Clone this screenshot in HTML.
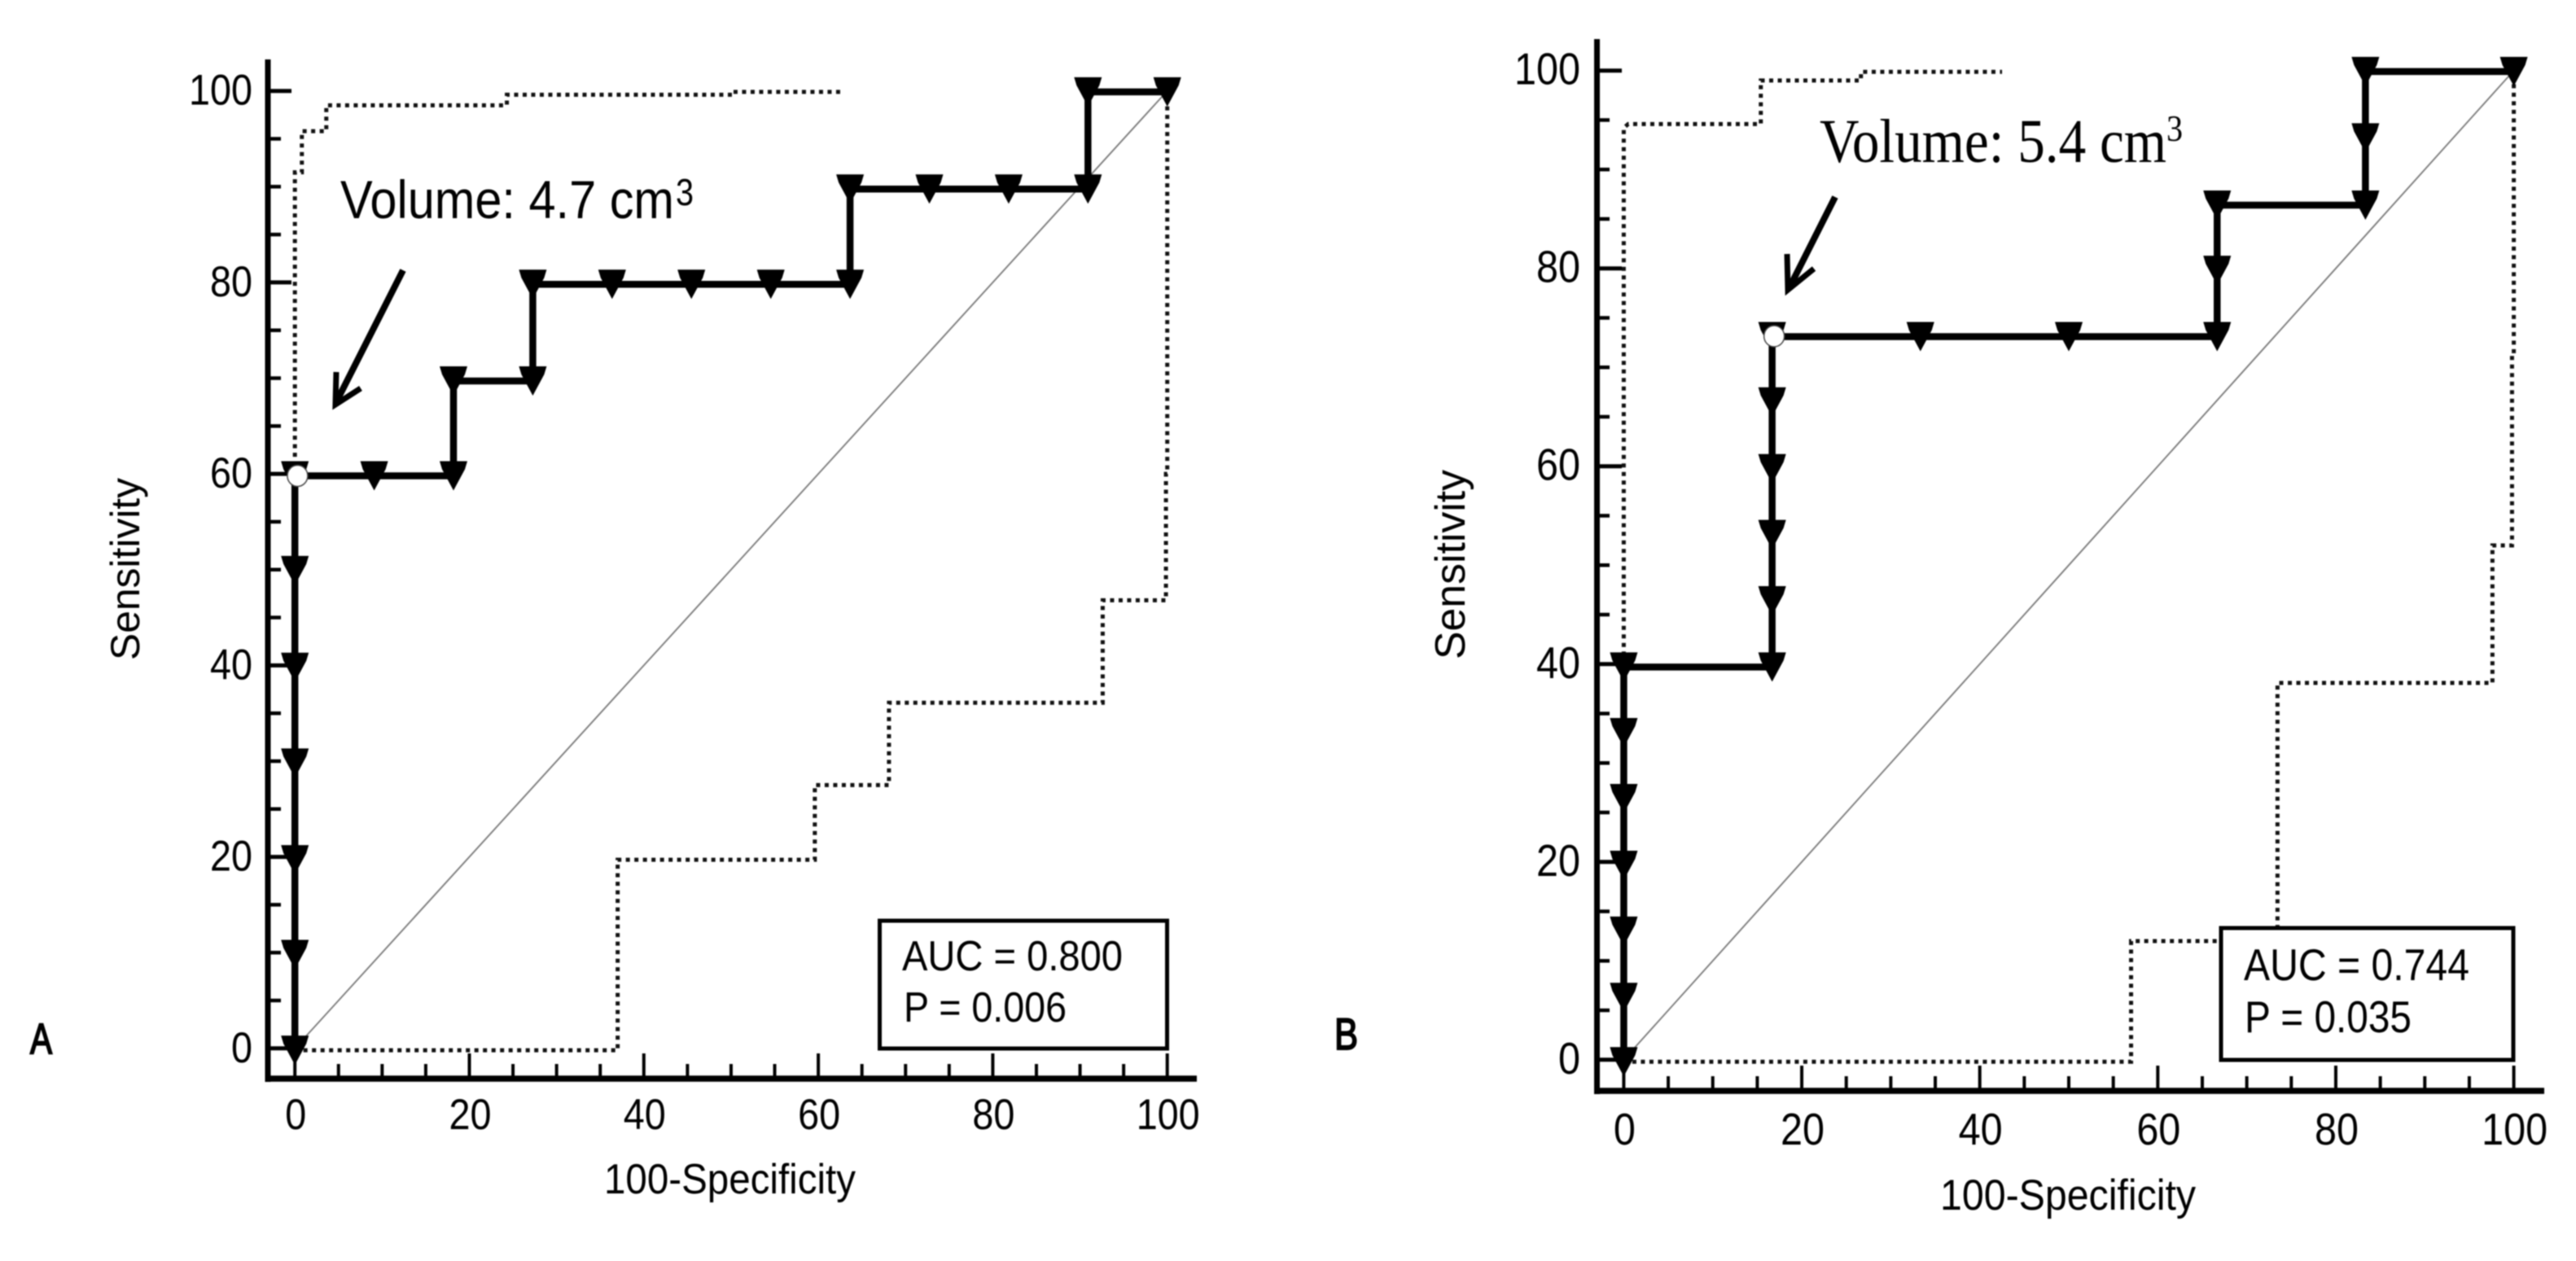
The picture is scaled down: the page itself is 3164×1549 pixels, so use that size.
<!DOCTYPE html>
<html lang="en">
<head>
<meta charset="utf-8">
<title>ROC curves for tumour volume</title>
<style>
html,body{margin:0;padding:0;background:#fff;}
body{width:3164px;height:1549px;overflow:hidden;}
svg{display:block;filter:blur(0.7px);}
text{font-family:"Liberation Sans",sans-serif;fill:#000;}
.serif{font-family:"Liberation Serif",serif;}
</style>
</head>
<body>
<svg id="figure" xmlns="http://www.w3.org/2000/svg" width="3164" height="1549" viewBox="0 0 3164 1549">
  <rect x="0" y="0" width="3164" height="1549" fill="#fff"/>
  <g id="panelA"></g>
  <g id="panelB"></g>

  <g>
    <text x="37" y="1294" font-size="53" textLength="27" lengthAdjust="spacingAndGlyphs" stroke="#000" stroke-width="2">A</text>
    <text x="742" y="1466" font-size="52" textLength="309" lengthAdjust="spacingAndGlyphs">100-Specificity</text>
    <text x="171" y="811" font-size="50" textLength="224" lengthAdjust="spacingAndGlyphs" transform="rotate(-90 171 811)">Sensitivity</text>
    <text x="418" y="268" font-size="66" textLength="410" lengthAdjust="spacingAndGlyphs">Volume: 4.7 cm</text>
    <text x="830" y="252" font-size="46" textLength="22" lengthAdjust="spacingAndGlyphs">3</text>
    <g fill="none" stroke="#000" stroke-width="8">
      <path d="M495 332 L413 494"/>
      <path d="M413 457 L412 497 L443 477" stroke-width="7"/>
    </g>
    <rect x="1080.5" y="1131" width="353" height="157" fill="#fff" stroke="#000" stroke-width="5"/>
    <text x="1108" y="1192" font-size="52" textLength="271" lengthAdjust="spacingAndGlyphs">AUC = 0.800</text>
    <text x="1110" y="1255" font-size="52" textLength="200" lengthAdjust="spacingAndGlyphs">P = 0.006</text>
  </g>

  <g>
    <text x="1639" y="1289" font-size="55" textLength="29" lengthAdjust="spacingAndGlyphs" stroke="#000" stroke-width="2">B</text>
    <text x="2383" y="1486" font-size="53" textLength="314" lengthAdjust="spacingAndGlyphs">100-Specificity</text>
    <text x="1799" y="810" font-size="52" textLength="233" lengthAdjust="spacingAndGlyphs" transform="rotate(-90 1799 810)">Sensitivity</text>
    <text class="serif" x="2235" y="199" font-size="76" textLength="426" lengthAdjust="spacingAndGlyphs">Volume: 5.4 cm</text>
    <text class="serif" x="2661" y="173" font-size="46" textLength="20" lengthAdjust="spacingAndGlyphs">3</text>
    <g fill="none" stroke="#000" stroke-width="8">
      <path d="M2254 242 L2198 353"/>
      <path d="M2195 312 L2196 356 L2228 330" stroke-width="7"/>
    </g>
    <rect x="2728" y="1140" width="359" height="162" fill="#fff" stroke="#000" stroke-width="5"/>
    <text x="2756" y="1204" font-size="55" textLength="277" lengthAdjust="spacingAndGlyphs">AUC = 0.744</text>
    <text x="2757" y="1268" font-size="55" textLength="205" lengthAdjust="spacingAndGlyphs">P = 0.035</text>
  </g>
</svg>

<script>
/* Shared axis ticks */
var majorTicks = [0, 20, 40, 60, 80, 100];
var minorTicks = [5, 10, 15, 25, 30, 35, 45, 50, 55, 65, 70, 75, 85, 90, 95];
var diagonalLine = [0, 100];

/* Panel A: ROC curve */
var rocAFpr = [0, 0, 0, 0, 0, 0, 0, 9.09, 18.18, 18.18, 27.27, 27.27, 36.36, 45.45, 54.55, 63.64, 63.64, 72.73, 81.82, 90.91, 90.91, 100];
var rocASens = [-0.2, 9.8, 19.7, 29.8, 39.8, 49.9, 59.8, 59.8, 59.8, 69.7, 69.7, 79.8, 79.8, 79.8, 79.8, 79.8, 89.75, 89.75, 89.75, 89.75, 99.9, 99.9];
var cutoffA = [0.3, 59.8];

/* Panel A: confidence bounds */
var upperAFpr = [0, 0, 0.8, 0.8, 3.6, 3.6, 24.3, 24.3, 50.1, 50.1, 62.7];
var upperASens = [60, 91.5, 91.5, 95.8, 95.8, 98.5, 98.5, 99.6, 99.6, 99.9, 99.9];
var lowerAFpr = [0, 37, 37, 59.6, 59.6, 68.1, 68.1, 92.6, 92.6, 99.85, 99.85, 100, 100];
var lowerASens = [-0.2, -0.2, 19.7, 19.7, 27.5, 27.5, 36.1, 36.1, 46.8, 46.8, 60, 60, 100];

/* Panel B: ROC curve */
var rocBFpr = [0, 0, 0, 0, 0, 0, 0, 16.67, 16.67, 16.67, 16.67, 16.67, 16.67, 33.33, 50, 66.67, 66.67, 66.67, 83.33, 83.33, 83.33, 100];
var rocBSens = [-0.2, 6.3, 13, 19.65, 26.4, 33.07, 39.7, 39.7, 46.4, 53.1, 59.75, 66.5, 73.1, 73.1, 73.1, 73.1, 79.8, 86.4, 86.4, 93.2, 99.9, 99.9];
var cutoffB = [16.9, 73.15];

/* Panel B: confidence bounds */
var upperBFpr = [0, 0, 0.5, 15.4, 15.4, 26.65, 26.65, 42.5];
var upperBSens = [40, 94.2, 94.6, 94.6, 99, 99, 99.87, 99.87];
var lowerBFpr = [0, 57, 57, 73.45, 73.45, 97.6, 97.6, 99.8, 99.8, 100, 100];
var lowerBSens = [-0.2, -0.2, 12, 12, 38.1, 38.1, 52, 52, 71.4, 71.4, 100];

var SVG_NS = 'http://www.w3.org/2000/svg';

function makeEl(parent, tag, props) {
  var el = document.createElementNS(SVG_NS, tag);
  for (var key in props) { el.setAttribute(key, props[key]); }
  parent.appendChild(el);
  return el;
}

function pointList(xs, ys, sx, sy) {
  var parts = [];
  for (var i = 0; i < xs.length; i++) { parts.push(sx(xs[i]) + ',' + sy(ys[i])); }
  return parts.join(' ');
}

function drawPanel(group, g, series) {
  var sx = function (v) { return g.x0 + (g.x100 - g.x0) * v / 100; };
  var sy = function (v) { return g.y0 + (g.y100 - g.y0) * v / 100; };
  var i, el, label;

  /* tick marks and tick labels */
  for (i = 0; i < majorTicks.length; i++) {
    label = String(majorTicks[i]);
    el = makeEl(group, 'line', { x1: g.axisX, x2: g.yMajorEnd, y1: sy(majorTicks[i]), y2: sy(majorTicks[i]), stroke: '#000', 'stroke-width': 5 });
    
    
    el = makeEl(group, 'line', { x1: sx(majorTicks[i]), x2: sx(majorTicks[i]), y1: g.axisY, y2: g.xMajorEnd, stroke: '#000', 'stroke-width': 4 });
    
    
    el = makeEl(group, 'text', { x: g.yLabelX, y: sy(majorTicks[i]) + 17, 'font-size': g.font, 'text-anchor': 'end', textLength: g.digitWidth * label.length, lengthAdjust: 'spacingAndGlyphs' });
    el.textContent = label;
    
    
    el = makeEl(group, 'text', { x: sx(majorTicks[i]) + 1, y: g.xLabelY, 'font-size': g.font, 'text-anchor': 'middle', textLength: g.digitWidth * label.length, lengthAdjust: 'spacingAndGlyphs' });
    el.textContent = label;
    
    
  }
  for (i = 0; i < minorTicks.length; i++) {
    el = makeEl(group, 'line', { x1: g.axisX, x2: g.yMinorEnd, y1: sy(minorTicks[i]), y2: sy(minorTicks[i]), stroke: '#000', 'stroke-width': 4.5 });
    
    
    el = makeEl(group, 'line', { x1: sx(minorTicks[i]), x2: sx(minorTicks[i]), y1: g.axisY, y2: g.xMinorEnd, stroke: '#000', 'stroke-width': 4 });
    
    
  }

  /* axis lines */
  el = makeEl(group, 'line', { x1: g.axisX, x2: g.axisX, y1: g.axisTop, y2: g.axisY + 4, stroke: '#000', 'stroke-width': 7 });
  
  
  el = makeEl(group, 'line', { x1: g.axisX - 3.5, x2: g.axisRight, y1: g.axisY, y2: g.axisY, stroke: '#000', 'stroke-width': 7.5 });
  
  

  /* reference diagonal */
  el = makeEl(group, 'line', { x1: sx(diagonalLine[0]), y1: sy(diagonalLine[0]), x2: sx(diagonalLine[1]), y2: sy(diagonalLine[1]), stroke: '#777', 'stroke-width': 1.8 });
  
  

  /* confidence bounds */
  el = makeEl(group, 'polyline', { points: pointList(series.upperX, series.upperY, sx, sy), fill: 'none', stroke: '#111', 'stroke-width': 5, 'stroke-dasharray': '5 5.5' });
  
  
  el = makeEl(group, 'polyline', { points: pointList(series.lowerX, series.lowerY, sx, sy), fill: 'none', stroke: '#111', 'stroke-width': 5, 'stroke-dasharray': '5 5.5' });
  
  

  /* ROC step line */
  el = makeEl(group, 'polyline', { points: pointList(series.rocX, series.rocY, sx, sy), fill: 'none', stroke: '#000', 'stroke-width': 8.5, 'stroke-linejoin': 'miter' });
  
  

  /* ROC markers */
  for (i = 0; i < series.rocX.length; i++) {
    var px = sx(series.rocX[i]);
    var py = sy(series.rocY[i]);
    el = makeEl(group, 'polygon', { points: (px - 17) + ',' + (py - 18) + ' ' + (px + 17) + ',' + (py - 18) + ' ' + (px + 14) + ',' + (py - 8) + ' ' + px + ',' + (py + 18) + ' ' + (px - 14) + ',' + (py - 8), fill: '#000' });
    
    
  }

  /* optimal cutoff */
  el = makeEl(group, 'ellipse', { cx: sx(series.cutoff[0]), cy: sy(series.cutoff[1]), rx: 12.5, ry: 13, fill: '#fff', stroke: '#444', 'stroke-width': 1.5 });
  
  
}

drawPanel(document.getElementById('panelA'),
  { x0: 362.2, x100: 1433.7, y0: 1287.8, y100: 111.7, axisX: 329, axisY: 1325, axisTop: 73, axisRight: 1470,
    yMajorEnd: 358, yMinorEnd: 345, xMajorEnd: 1294, xMinorEnd: 1307, yLabelX: 310, xLabelY: 1387, font: 53, digitWidth: 26 },
  { rocX: rocAFpr, rocY: rocASens, cutoff: cutoffA, upperX: upperAFpr, upperY: upperASens, lowerX: lowerAFpr, lowerY: lowerASens });

drawPanel(document.getElementById('panelB'),
  { x0: 1994.4, x100: 3087.6, y0: 1301.8, y100: 86.7, axisX: 1961.5, axisY: 1340, axisTop: 48, axisRight: 3125,
    yMajorEnd: 1992, yMinorEnd: 1977, xMajorEnd: 1309, xMinorEnd: 1322, yLabelX: 1941, xLabelY: 1406, font: 55, digitWidth: 27 },
  { rocX: rocBFpr, rocY: rocBSens, cutoff: cutoffB, upperX: upperBFpr, upperY: upperBSens, lowerX: lowerBFpr, lowerY: lowerBSens });
</script>
</body>
</html>
